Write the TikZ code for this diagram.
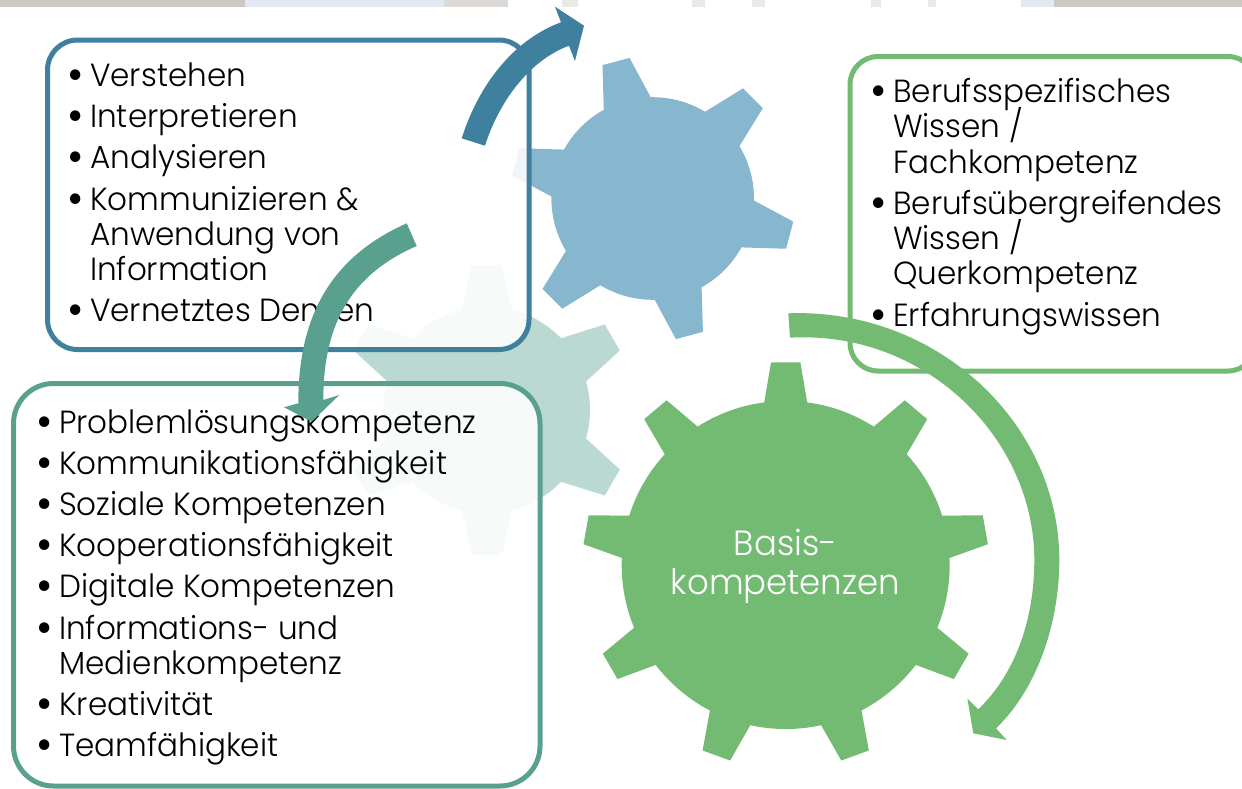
\documentclass[tikz,border=0pt]{standalone}
\usepackage{fontspec}
\setmainfont{Poppins}[UprightFont=* Light,FakeStretch=0.97]
\definecolor{gearblue}{HTML}{86B7CF}
\definecolor{gearteal}{HTML}{BAD9D2}
\definecolor{geargreen}{HTML}{73BB72}
\definecolor{lineblue}{HTML}{40809F}
\definecolor{lineteal}{HTML}{59A08F}
\definecolor{stripa}{HTML}{CBC9C2}
\definecolor{stripb}{HTML}{E3E9F3}
\definecolor{stripc}{HTML}{DCD9D6}
\definecolor{stripd}{HTML}{E9E9E6}
\newcommand{\bigdot}{\kern-2.5pt\smash{\raisebox{-4pt}{\fontsize{46}{46}\selectfont\textbullet}}}
\newcommand{\bitem}[1]{\par\hangindent=20pt\hangafter=1\noindent\hbox to 20pt{\bigdot\hss}{\def\\{\break}#1}\par}
\newcommand{\blist}[1]{\vtop{\hsize=520pt\fontsize{32}{35.3}\selectfont\lineskiplimit=-100pt\parskip=5.9pt\parindent=0pt\raggedright #1}}
\newcommand{\gear}[7]{% cx,cy,rot,n,r,tooth,colour
  \begin{scope}[shift={(#1,#2)}]
    \fill[#7] (0,0) circle[radius=#5];
    \foreach \k in {1,...,#4}{
      \fill[#7,rotate={#3+\k*360/#4}] #6;
    }
  \end{scope}}
\tikzset{
  listtext/.style={inner sep=0pt,anchor=base west,text=black},
  boxline/.style={line width=5pt,fill=white,fill opacity=.87},
}
\begin{document}
\begin{tikzpicture}[x=1pt,y=-1pt]
\useasboundingbox (0,0) rectangle (1242,788);
\clip (0,0) rectangle (1242,788);
\fill[white] (0,0) rectangle (1242,788);
% photo strip at the top edge
\fill[stripa] (0,0) rectangle (245,7);
\fill[stripb] (245,0) rectangle (444,7);
\fill[stripc] (444,0) rectangle (508,7);
\fill[stripd] (562,0) rectangle (578,7);
\fill[stripd] (692,0) rectangle (705,7);
\fill[stripd] (752,0) rectangle (765,7);
\fill[stripd] (871,0) rectangle (881,7);
\fill[stripd] (928,0) rectangle (936,7);
\fill[stripb] (1021,0) rectangle (1054,7);
\fill[stripa] (1054,0) rectangle (1242,7);
% gears
\gear{652.7}{198.5}{15}{6}{101.3}{(-24.3,-98.3)--(-14,-141.8)--(14,-141.8)--(24.3,-98.3)--cycle}{gearblue}
\gear{486.7}{410}{0}{6}{103.3}{(-25,-100)--(-15,-145)--(15,-145)--(25,-100)--cycle}{gearteal}
\gear{785.7}{565}{0}{9}{164}{(-21.65,-161.7)--(-14.65,-202.7)--(14.65,-202.7)--(21.65,-161.7)--cycle}{geargreen}
% boxes
\draw[boxline,draw=lineblue,rounded corners=30pt] (47.5,40) rectangle (529,349.5);
\draw[boxline,draw=lineteal,rounded corners=40pt] (13.5,383.5) rectangle (540,786);
\draw[boxline,draw=geargreen,rounded corners=28pt] (850,56.5) rectangle (1256,371);
% texts
\node[listtext] (listA) at (70,86.5) {\blist{%
  \bitem{Verstehen}\bitem{Interpretieren}\bitem{Analysieren}%
  \bitem{Kommunizieren \&\\Anwendung von\\Information}\bitem{Vernetztes Denken}}};
\node[listtext] (listB) at (39,433) {\blist{%
  \bitem{Problemlösungskompetenz}\bitem{Kommunikationsfähigkeit}\bitem{Soziale Kompetenzen}%
  \bitem{Kooperationsfähigkeit}\bitem{Digitale Kompetenzen}%
  \bitem{Informations- und\\Medienkompetenz}\bitem{Kreativität}\bitem{Teamfähigkeit}}};
\node[listtext] (listC) at (873,102.5) {\blist{%
  \bitem{Berufsspezifisches\\Wissen /\\Fachkompetenz}%
  \bitem{Berufsübergreifendes\\Wissen /\\Querkompetenz}\bitem{Erfahrungswissen}}};
\node[inner sep=0pt,text=white,align=center,font=\fontsize{35}{39}\selectfont] (basis) at (785.5,566) {Basis-\\kompetenzen};
% curved arrows
\fill[lineblue] (461.7,138.3) .. controls (477.7,87.8) and (511.3,40.6) .. (561,22.3)
  -- (555,6.7) -- (584,25.7) -- (575,61) -- (569,45.7)
  .. controls (527.8,60.9) and (498.2,103.9) .. (485,145.7) -- cycle;
\fill[lineteal] (406.7,223.3) .. controls (329,258) and (298.3,318) .. (298.3,403.3)
  -- (284,407.3) -- (311.7,421.7) -- (339.3,395) -- (323.3,400)
  .. controls (323.3,332) and (345,277) .. (416.7,246) -- cycle;
\fill[geargreen] (788.3,313.3) .. controls (938,308) and (1059.3,424) .. (1059.3,560)
  .. controls (1059.3,620) and (1039,687) .. (996,728.3)
  -- (1006.7,740) -- (973.3,733.3) -- (967.3,698.3) -- (978.3,709.3)
  .. controls (1018,671) and (1034.3,615) .. (1034.3,560)
  .. controls (1034.3,438) and (925,330) .. (790,337.7) -- cycle;
\end{tikzpicture}
\end{document}
